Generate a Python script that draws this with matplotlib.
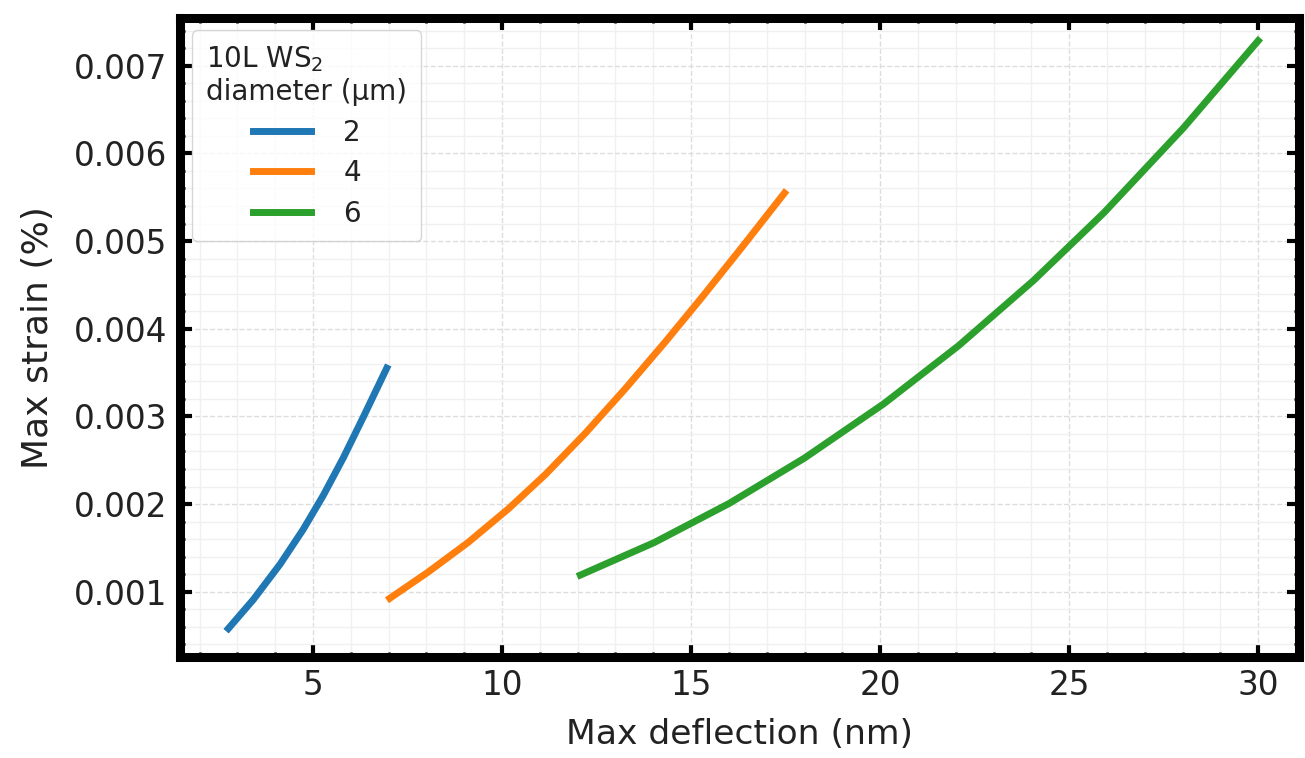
import matplotlib
matplotlib.use('Agg')
import matplotlib.pyplot as plt
from matplotlib.ticker import MultipleLocator

# ----- Data: max deflection (nm) vs. max strain (%) for 10L WS2 membranes -----
diameters = ['2', '4', '6']
colors = ['#1f77b4', '#ff7f0e', '#2ca02c']

defl_2um = [2.76, 3.42, 4.13, 4.74, 5.27, 5.80, 6.33, 6.95]
strain_2um = [0.00058, 0.00091, 0.001315, 0.001711, 0.002098, 0.002527, 0.002993, 0.003551]

defl_4um = [7.03, 8.05, 9.11, 10.17, 11.14, 12.20, 13.26, 14.32, 15.29, 16.35, 17.47]
strain_4um = [0.000925, 0.001226, 0.001565, 0.001947, 0.002335, 0.002807, 0.003316,
              0.003851, 0.004360, 0.004932, 0.005548]

defl_6um = [12.07, 14.03, 16.01, 17.99, 20.10, 22.08, 24.06, 25.92, 28.02, 30.00]
strain_6um = [0.00119, 0.001562, 0.002008, 0.002522, 0.003145, 0.003808, 0.004551,
              0.005323, 0.006289, 0.007285]

series = [(defl_2um, strain_2um), (defl_4um, strain_4um), (defl_6um, strain_6um)]

# ----- Plotting -----
plt.rcParams['text.color'] = '#222222'
plt.rcParams['axes.labelcolor'] = '#222222'

fig = plt.figure(figsize=(13.05, 7.58), dpi=100)
ax = fig.add_axes([0.1379, 0.1326, 0.8575, 0.8443])

for (x, y), d, c in zip(series, diameters, colors):
    ax.plot(x, y, color=c, lw=5, label=d, solid_capstyle='projecting',
            solid_joinstyle='round')

ax.set_xlim(1.48, 31.08)
ax.set_ylim(0.00025, 0.00755)

ax.xaxis.set_major_locator(MultipleLocator(5))
ax.xaxis.set_minor_locator(MultipleLocator(1))
ax.yaxis.set_major_locator(MultipleLocator(0.001))
ax.yaxis.set_minor_locator(MultipleLocator(0.0002))

ax.grid(which='major', color='#dddddd', linestyle='--', lw=1.0)
ax.grid(which='minor', color='#f0f0f0', linestyle='-', lw=1.0)
ax.set_axisbelow(True)

for side in ['top', 'bottom', 'left', 'right']:
    ax.spines[side].set_linewidth(6.5)
    ax.spines[side].set_color('black')

ax.tick_params(which='both', direction='in', top=True, right=True, colors='black',
               labelcolor='#222222')
ax.tick_params(which='major', length=8.5, width=3, labelsize=23.5)
ax.tick_params(which='minor', length=3.8, width=2)
ax.tick_params(axis='x', which='major', pad=8)
ax.tick_params(axis='y', which='major', pad=9)

ax.set_xlabel('Max deflection (nm)', fontsize=24.8, labelpad=12)
ax.set_ylabel('Max strain (%)', fontsize=26, labelpad=14)

leg = ax.legend(title='10L WS$_2$\ndiameter (μm)', loc='upper left', fontsize=20,
                title_fontsize=20, handlelength=2.1, handletextpad=1.17,
                borderpad=0.5, borderaxespad=0.45, labelspacing=0.45)
leg.get_frame().set_edgecolor('#cccccc')

fig.savefig('out.png', dpi=100)
